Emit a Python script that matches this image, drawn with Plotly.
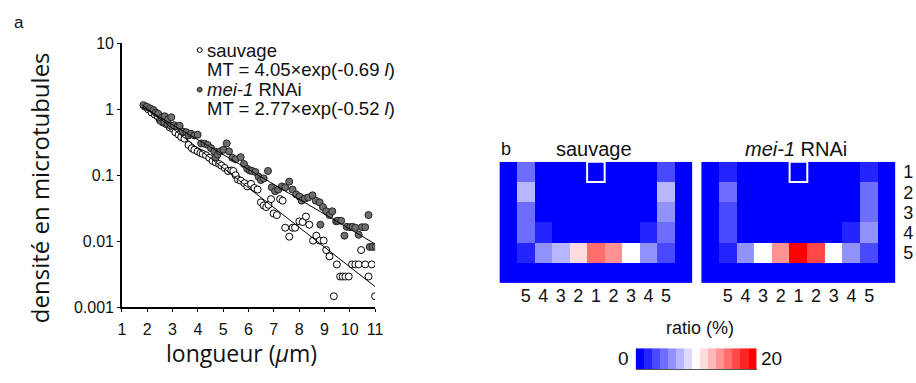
import numpy as np
import plotly.graph_objects as go

W, H = 916, 383
def px(x): return x / W
def py(y): return 1 - y / H

# ---------------- data: panel a ----------------
wt_x = [1.91, 2.04, 2.17, 2.30, 2.41, 2.50, 2.63, 2.76, 2.89, 3.02, 3.11, 3.24, 3.34, 3.47, 3.63, 3.76,
        3.86, 3.99, 4.10, 4.19, 4.32, 4.45, 4.58, 4.71, 4.84, 4.93, 5.06, 5.19, 5.32, 5.40, 5.49, 5.58,
        5.69, 5.84, 5.95, 6.10, 6.23, 6.36, 6.49, 6.60, 6.70, 6.79, 6.89, 6.99, 7.12, 7.25, 7.35, 7.45,
        7.61, 7.74, 7.84, 8.01, 8.14, 8.27, 8.40, 8.55, 8.68, 8.81, 8.97, 9.07, 9.20, 9.37, 9.49, 9.62,
        9.72, 9.83, 9.96, 10.09, 10.22, 10.35, 10.45, 10.61, 10.74, 10.87, 11.00]
wt_y = [1.093, 1.0, 0.895, 0.828, 0.783, 0.685, 0.627, 0.593, 0.531, 0.502, 0.449, 0.411, 0.380, 0.359,
        0.288, 0.257, 0.243, 0.230, 0.218, 0.211, 0.201, 0.184, 0.165, 0.156, 0.148, 0.140, 0.129, 0.116,
        0.118, 0.116, 0.100, 0.0865, 0.0828, 0.0757, 0.0677, 0.0741, 0.0641, 0.0606, 0.0388, 0.0348,
        0.0329, 0.0356, 0.0434, 0.0263, 0.0249, 0.0434, 0.0411, 0.0160, 0.0117, 0.0160, 0.0160, 0.0200,
        0.0195, 0.0236, 0.0178, 0.0102, 0.0121, 0.0102, 0.0102, 0.00733, 0.00586, 0.00146, 0.00444,
        0.00291, 0.00291, 0.00291, 0.00291, 0.00444, 0.00444, 0.00444, 0.00733, 0.00444, 0.00291,
        0.00444, 0.00146]

mei_x = [1.85, 1.98, 2.11, 2.24, 2.33, 2.43, 2.54, 2.56, 2.67, 2.69, 2.80, 2.82, 2.93, 2.95, 3.06, 3.19,
         3.28, 3.41, 3.54, 3.63, 3.73, 3.86, 3.99, 4.13, 4.26, 4.39, 4.52, 4.65, 4.71, 4.78, 4.87, 5.01,
         5.14, 5.23, 5.36, 5.49, 5.69, 5.82, 5.95, 6.05, 6.14, 6.27, 6.40, 6.49, 6.60, 6.77, 6.92, 7.05,
         7.18, 7.32, 7.45, 7.61, 7.74, 7.88, 8.01, 8.10, 8.23, 8.36, 8.53, 8.66, 8.81, 8.84, 8.94, 9.07,
         9.20, 9.31, 9.46, 9.53, 9.66, 9.79, 9.88, 10.01, 10.11, 10.22, 10.35, 10.48, 10.61, 10.74,
         10.79, 10.90, 11.03]
mei_y = [1.155, 1.093, 1.034, 0.978, 0.895, 0.856, 0.663, 0.741, 0.641, 0.783, 0.593, 0.701, 0.561,
         0.757, 0.573, 0.548, 0.561, 0.459, 0.449, 0.402, 0.425, 0.402, 0.411, 0.304, 0.301, 0.288,
         0.257, 0.230, 0.188, 0.206, 0.230, 0.243, 0.304, 0.230, 0.184, 0.174, 0.188, 0.148, 0.125,
         0.118, 0.116, 0.112, 0.0946, 0.0847, 0.0895, 0.116, 0.0655, 0.0573, 0.0606, 0.0677, 0.0655,
         0.0800, 0.0606, 0.0513, 0.0475, 0.0411, 0.0444, 0.0459, 0.0496, 0.0411, 0.0388, 0.0178,
         0.0329, 0.0284, 0.0249, 0.0284, 0.0200, 0.0204, 0.0204, 0.0121, 0.0165, 0.0163, 0.0165,
         0.0160, 0.0125, 0.0163, 0.0163, 0.0249, 0.00819, 0.00819, 0.00819]

wt_fit = (4.05, 0.69)
mei_fit = (2.77, 0.52)
fit_range = (1.8, 11.0)

x_ticks = list(range(1, 12))
y_ticks = [0.001, 0.01, 0.1, 1, 10]
y_ticktext = ["0.001", "0.01", "0.1", "1", "10"]

# ---------------- data: panel b (ratio %) ----------------
col_labels = ["", "5", "4", "3", "2", "1", "2", "3", "4", "5", ""]
row_labels = ["1", "2", "3", "4", "5", ""]
wt_ratio = [
    [0, 4.3, 0, 0, 0, 0, 0, 0, 0, 2.9, 0],
    [0, 7.1, 0, 0, 0, 0, 0, 0, 0, 7.1, 0],
    [0, 4.3, 0, 0, 0, 0, 0, 0, 0, 5.7, 0],
    [0, 4.3, 1.4, 0, 0, 0, 0, 0, 1.4, 4.3, 0],
    [0, 1.4, 5.7, 7.1, 11.4, 15.7, 14.3, 10.0, 5.7, 2.9, 0],
    [0, 0, 0, 0, 0, 0, 0, 0, 0, 0, 0],
]
mei_ratio = [
    [0, 1.4, 0, 0, 0, 0, 0, 0, 0, 1.4, 0],
    [0, 4.3, 0, 0, 0, 0, 0, 0, 0, 4.3, 0],
    [0, 2.9, 0, 0, 0, 0, 0, 0, 0, 4.3, 0],
    [0, 2.9, 0, 0, 0, 0, 0, 0, 1.4, 5.7, 0],
    [0, 1.4, 5.7, 10.0, 14.3, 20.0, 17.1, 10.0, 5.7, 2.9, 0],
    [0, 0, 0, 0, 0, 0, 0, 0, 0, 0, 0],
]
ratio_min, ratio_max = 0, 20
n_steps = 15

# stepped blue-white-red colour scale
colors = []
for k in range(n_steps):
    if k <= 7:
        v = round(255 * k / 7)
        colors.append(f"rgb({v},{v},255)")
    else:
        v = round(255 * (14 - k) / 7)
        colors.append(f"rgb(255,{v},{v})")
cscale = []
for k, c in enumerate(colors):
    cscale.append([k / n_steps, c])
    cscale.append([(k + 1) / n_steps, c])
scale_values = [ratio_min + k * (ratio_max - ratio_min) / (n_steps - 1) for k in range(n_steps)]

TXT = "Liberation Sans, Arial, sans-serif"
TTL = "Open Sans, sans-serif"

fig = go.Figure()

fig.add_trace(go.Scatter(x=wt_x, y=wt_y, mode="markers", xaxis="x", yaxis="y",
                         marker=dict(size=7, color="white", line=dict(color="black", width=1)),
                         showlegend=False))
fig.add_trace(go.Scatter(x=mei_x, y=mei_y, mode="markers", xaxis="x", yaxis="y",
                         marker=dict(size=7, color="#6e6e6e", line=dict(color="#222", width=1)),
                         showlegend=False))
fx = np.linspace(fit_range[0], fit_range[1], 60)
for a, b in (wt_fit, mei_fit):
    fig.add_trace(go.Scatter(x=fx, y=a * np.exp(-b * fx), mode="lines", xaxis="x", yaxis="y",
                             line=dict(color="black", width=1), showlegend=False))

fig.add_trace(go.Heatmap(z=wt_ratio, x=list(range(11)), y=list(range(6)), xaxis="x2", yaxis="y2",
                         colorscale=cscale, zmin=ratio_min, zmax=ratio_max, showscale=False))
fig.add_trace(go.Heatmap(z=mei_ratio, x=list(range(11)), y=list(range(6)), xaxis="x3", yaxis="y3",
                         colorscale=cscale, zmin=ratio_min, zmax=ratio_max, showscale=False))
fig.add_trace(go.Heatmap(z=[scale_values], x=list(range(n_steps)), y=[0], xaxis="x4", yaxis="y4",
                         colorscale=cscale, zmin=ratio_min, zmax=ratio_max, showscale=False))

hm_common_x = dict(range=[-0.5, 10.5], tickmode="array", tickvals=list(range(11)), ticktext=col_labels,
                   showgrid=False, zeroline=False, showline=False, ticks="", fixedrange=True,
                   tickfont=dict(family=TXT, size=18, color="#111"))
hm_common_y = dict(range=[5.5, -0.5], showgrid=False, zeroline=False, showline=False, fixedrange=True)

fig.update_layout(
    width=W, height=H, margin=dict(l=0, r=0, t=0, b=0),
    paper_bgcolor="white", plot_bgcolor="white",
    xaxis=dict(domain=[px(119.5), px(376)], range=[1, 11], tickvals=x_ticks,
               showline=True, linecolor="black", linewidth=1.5, ticks="outside", ticklen=3,
               tickcolor="black", showgrid=False, zeroline=False, ticklabelstandoff=4,
               tickfont=dict(family=TXT, size=16, color="#111")),
    yaxis=dict(domain=[py(313), py(37)], type="log", range=[-3, 1], tickvals=y_ticks,
               ticktext=y_ticktext, showline=True, linecolor="black", linewidth=1.5,
               ticks="outside", ticklen=3, tickcolor="black", showgrid=False, zeroline=False,
               tickfont=dict(family=TXT, size=16, color="#111")),
    xaxis2=dict(domain=[px(502), px(697.5)], anchor="y2", **hm_common_x),
    yaxis2=dict(domain=[py(288), py(161)], anchor="x2", showticklabels=False, **hm_common_y),
    xaxis3=dict(domain=[px(706.5), px(903.5)], anchor="y3", **hm_common_x),
    yaxis3=dict(domain=[py(288), py(161)], anchor="x3", side="right", tickmode="array",
                tickvals=list(range(6)), ticktext=row_labels, ticks="outside", ticklen=3,
                tickcolor="rgba(0,0,0,0)", tickfont=dict(family=TXT, size=18, color="#111"),
                **hm_common_y),
    xaxis4=dict(domain=[px(640), px(762.7)], anchor="y4", range=[-0.5, n_steps - 0.5],
                showticklabels=False, ticks="", showgrid=False, zeroline=False,
                showline=True, linecolor="#555", linewidth=1, fixedrange=True),
    yaxis4=dict(domain=[py(377.7), py(356)], anchor="x4", range=[-0.5, 0.5], showticklabels=False,
                ticks="", showgrid=False, zeroline=False, fixedrange=True),
)

# outlined reference cells
for xr, yr in (("x2", "y2"), ("x3", "y3")):
    fig.add_shape(type="rect", xref=xr, yref=yr, x0=4.5, x1=5.5, y0=-0.5, y1=0.5,
                  line=dict(color="white", width=2), fillcolor="rgba(0,0,0,0)")

# legend glyphs for panel a
fig.add_shape(type="circle", xref="paper", yref="paper", x0=px(195.8), x1=px(200.8),
              y0=py(46.5), y1=py(41.5), line=dict(color="black", width=1), fillcolor="white")
fig.add_shape(type="circle", xref="paper", yref="paper", x0=px(195.8), x1=px(200.8),
              y0=py(88), y1=py(83), line=dict(color="#222", width=1), fillcolor="#6e6e6e")

def ann(text, x, y, size, xanchor="left", family=TXT, color="#111", textangle=0):
    fig.add_annotation(text=text, x=px(x), y=py(y), xref="paper", yref="paper", showarrow=False,
                       xanchor=xanchor, yanchor="middle", textangle=textangle,
                       font=dict(family=family, size=size, color=color))

ann("a", 8, 15, 17)
ann("b", 502, 148, 18)
ann("sauvage", 204, 44, 18.5)
ann(f"MT = {wt_fit[0]:.2f}×exp(-{wt_fit[1]:.2f} <i>l</i>)", 204, 64, 18.5)
ann("<i>mei-1</i> RNAi", 204, 85, 18.5)
ann(f"MT = {mei_fit[0]:.2f}×exp(-{mei_fit[1]:.2f} <i>l</i>)", 204, 105, 18.5)
ann("densité en microtubules", 36, 188, 24, xanchor="center", family=TTL, textangle=-90)
ann("longueur (<i>μ</i>m)", 241, 361, 23, xanchor="center", family=TTL)
ann("sauvage", 598, 148, 20, xanchor="center")
ann("<i>mei-1</i> RNAi", 803, 148, 20, xanchor="center")
ann("ratio (%)", 705, 335, 18, xanchor="center")
ann("0", 628, 367, 19, xanchor="center")
ann("20", 778, 367, 19, xanchor="center")

fig.write_html("out.html", config={"displayModeBar": False},
               post_script="document.body.style.margin='0';document.body.style.overflow='hidden';")
